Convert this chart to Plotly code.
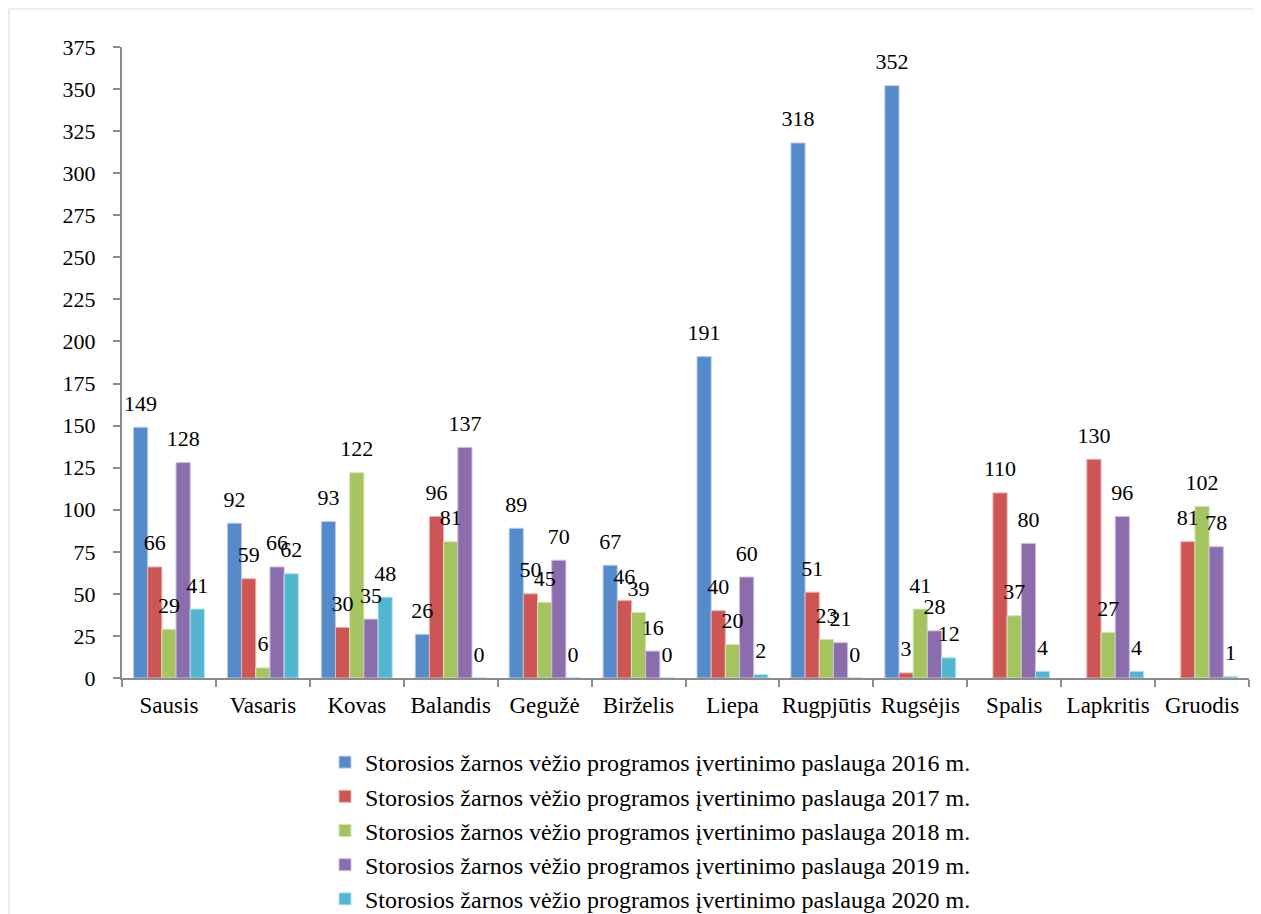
import plotly.graph_objects as go

months = ["Sausis", "Vasaris", "Kovas", "Balandis", "Gegužė", "Birželis",
          "Liepa", "Rugpjūtis", "Rugsėjis", "Spalis", "Lapkritis", "Gruodis"]

v2016 = [149, 92, 93, 26, 89, 67, 191, 318, 352, None, None, None]
v2017 = [66, 59, 30, 96, 50, 46, 40, 51, 3, 110, 130, 81]
v2018 = [29, 6, 122, 81, 45, 39, 20, 23, 41, 37, 27, 102]
v2019 = [128, 66, 35, 137, 70, 16, 60, 21, 28, 80, 96, 78]
v2020 = [41, 62, 48, 0, 0, 0, 2, 0, 12, 4, 4, 1]

series_names = [
    "Storosios žarnos vėžio programos įvertinimo paslauga 2016 m.",
    "Storosios žarnos vėžio programos įvertinimo paslauga 2017 m.",
    "Storosios žarnos vėžio programos įvertinimo paslauga 2018 m.",
    "Storosios žarnos vėžio programos įvertinimo paslauga 2019 m.",
    "Storosios žarnos vėžio programos įvertinimo paslauga 2020 m.",
]
series_values = [v2016, v2017, v2018, v2019, v2020]
colors = ["#558BCB", "#CD5654", "#A5C460", "#8B6DAD", "#52B6D1"]
edge = ["#B9CDEA", "#E8B3B2", "#D5E4B6", "#CCBEDD", "#B5E1EC"]

FONT = "Liberation Serif, Times New Roman, serif"
GAP = 0.245

fig = go.Figure()
for i, (name, vals) in enumerate(zip(series_names, series_values)):
    fig.add_trace(go.Bar(
        x=months, y=vals, name=name,
        marker=dict(color=colors[i], line=dict(color=edge[i], width=1)),
        offsetgroup=str(i),
        legendgroup=f"g{i}",
    ))
# value labels (placed above each bar, grouped like the bars)
for i, (name, vals) in enumerate(zip(series_names, series_values)):
    fig.add_trace(go.Scatter(
        x=months, y=vals, mode="markers+text",
        text=[("" if v is None else str(v)) for v in vals],
        textposition="top center",
        textfont=dict(family=FONT, size=22, color="black"),
        marker=dict(size=16, color="rgba(0,0,0,0)"),
        offsetgroup=str(i),
        showlegend=False, hoverinfo="skip", cliponaxis=False,
    ))

# the page body has an 8px margin, so the figure is placed at (8, 8)
OFF = 8
W, H = 1261 - OFF, 914 - OFF
L = 122 - OFF
R = 1261 - 1249
T = 47 - OFF
B = H - (678 - OFF)
pw, ph = W - L - R, H - T - B

def px(x):
    return (x - OFF - L) / pw

def py(y):
    return (H - B - (y - OFF)) / ph

fig.add_shape(type="rect", xref="paper", yref="paper",
              x0=px(9), x1=px(1257), y0=py(930), y1=py(9),
              line=dict(color="#D9D9D9", width=1), layer="below")

fig.update_layout(
    width=W, height=H,
    margin=dict(l=L, r=R, t=T, b=B, autoexpand=False),
    paper_bgcolor="white", plot_bgcolor="white",
    barmode="group", bargap=GAP, bargroupgap=0,
    scattermode="group", scattergap=GAP,
    font=dict(family=FONT, size=22, color="black"),
    showlegend=True,
    legend=dict(
        orientation="v", x=px(325), xanchor="left", y=py(740), yanchor="top",
        font=dict(family=FONT, size=24, color="black"),
        traceorder="grouped", tracegroupgap=0,
        bgcolor="rgba(0,0,0,0)",
        itemwidth=30,
    ),
    xaxis=dict(
        type="category", showgrid=False, showline=True, linecolor="#8C8C8C", linewidth=2,
        ticks="outside", tickson="boundaries", ticklen=7, tickcolor="#8C8C8C", tickwidth=2,
        tickfont=dict(family=FONT, size=23, color="black"),
        tickangle=0, ticklabelstandoff=5,
        range=[-0.5, 11.5],
    ),
    yaxis=dict(
        range=[0, 375], tickmode="linear", tick0=0, dtick=25,
        showgrid=False, showline=True, linecolor="#8C8C8C", linewidth=2,
        ticks="outside", ticklen=7, tickcolor="#8C8C8C", tickwidth=2,
        tickfont=dict(family=FONT, size=22, color="black"),
        ticklabelstandoff=13, zeroline=False,
    ),
)

fig.write_html("out.html")
